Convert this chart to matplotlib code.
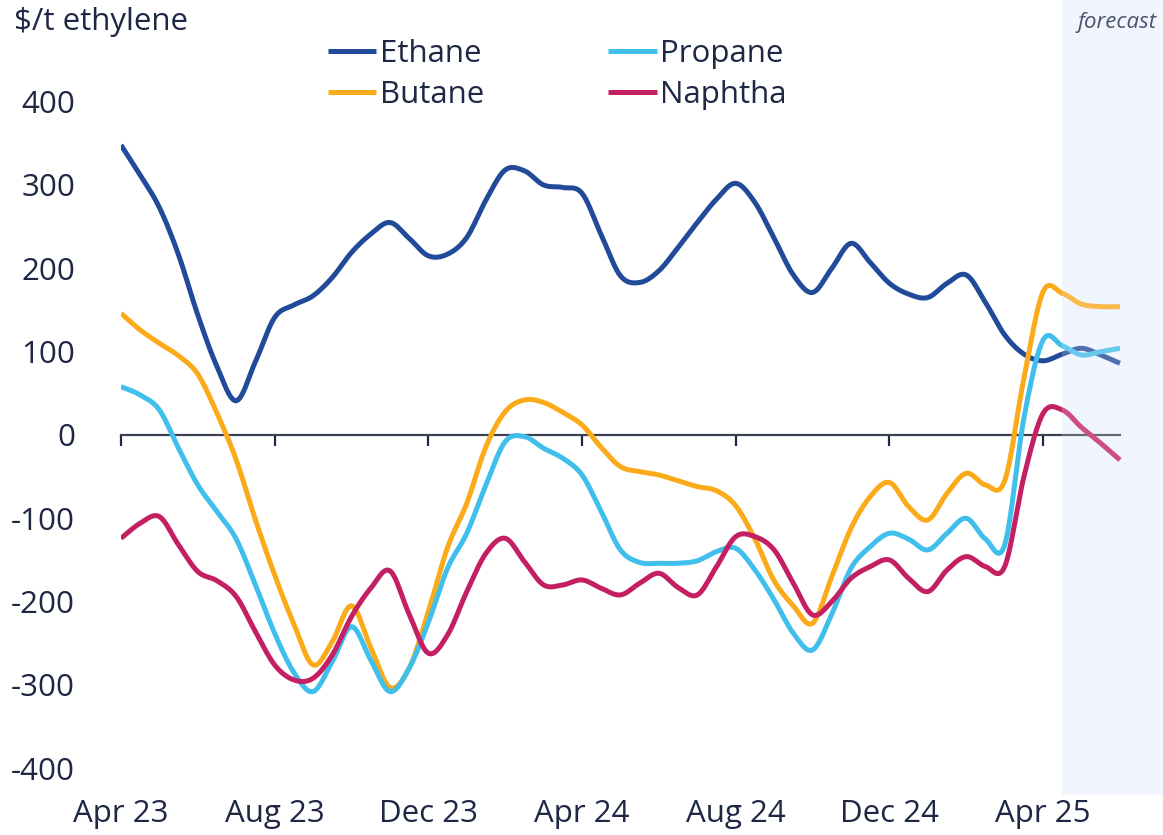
import matplotlib.pyplot as plt
import numpy as np

plt.rcParams["font.family"] = ["Open Sans", "DejaVu Sans"]
plt.rcParams["axes.unicode_minus"] = False

# semi-monthly points, months since Apr 2023
months = np.arange(53) / 2.0

ethane = [348, 312, 273, 216, 144, 82, 41, 88, 141, 156, 167, 189, 219, 241, 255,
          236, 215, 217, 237, 282, 318, 317, 300, 297, 290, 240, 191, 183, 197, 225,
          255, 283, 302, 279, 236, 192, 171, 200, 230, 207, 182, 169, 165, 182, 192,
          159, 120, 97, 89, 97, 104, 96, 86]
propane = [58, 48, 30, -16, -60, -92, -125, -180, -238, -285, -308, -272, -230, -270,
           -308, -280, -225, -160, -118, -60, -8, -2, -16, -28, -48, -92, -138, -153,
           -154, -154, -151, -140, -136, -162, -198, -238, -258, -215, -160, -134,
           -118, -125, -138, -118, -100, -125, -132, 20, 114, 107, 96, 100, 104]
butane = [146, 126, 110, 95, 73, 26, -30, -102, -168, -227, -276, -248, -205, -255,
          -303, -280, -212, -135, -82, -14, 28, 42, 39, 27, 12, -15, -38, -44, -48,
          -55, -62, -67, -85, -125, -175, -205, -226, -170, -112, -74, -57, -86, -102,
          -70, -46, -60, -55, 68, 172, 170, 157, 154, 154]
naphtha = [-124, -106, -98, -132, -164, -175, -194, -236, -276, -294, -292, -264, -218,
           -184, -163, -215, -262, -240, -188, -142, -124, -152, -180, -180, -174,
           -184, -192, -178, -166, -183, -192, -158, -122, -122, -138, -178, -216,
           -200, -172, -158, -150, -172, -188, -162, -146, -158, -158, -50, 26, 30, 9,
           -10, -30]

tick_pos = [0, 4, 8, 12, 16, 20, 24]
tick_labels = ["Apr 23", "Aug 23", "Dec 23", "Apr 24", "Aug 24", "Dec 24", "Apr 25"]
forecast_start = 24.5

series = [
    ("Ethane", ethane, "#214A99"),
    ("Butane", butane, "#FBAA19"),
    ("Propane", propane, "#40BFEC"),
    ("Naphtha", naphtha, "#C41F63"),
]
text_color = "#1E2744"
font_size = 22.5


def spline_path(x, y, steps=10):
    """Catmull-Rom curve through the points, for a smooth line shape."""
    x = np.asarray(x, float)
    y = np.asarray(y, float)
    px = np.concatenate([[2 * x[0] - x[1]], x, [2 * x[-1] - x[-2]]])
    py = np.concatenate([[2 * y[0] - y[1]], y, [2 * y[-1] - y[-2]]])
    t = np.linspace(0, 1, steps, endpoint=False)[:, None]
    t2, t3 = t * t, t * t * t

    def seg(p):
        p0, p1, p2, p3 = p[:-3], p[1:-2], p[2:-1], p[3:]
        return 0.5 * (2 * p1 + (-p0 + p2) * t + (2 * p0 - 5 * p1 + 4 * p2 - p3) * t2
                      + (-p0 + 3 * p1 - 3 * p2 + p3) * t3)

    sx = seg(px).T.ravel()
    sy = seg(py).T.ravel()
    return np.append(sx, x[-1]), np.append(sy, y[-1])


fig = plt.figure(figsize=(11.63, 8.35), dpi=100)
ax = fig.add_axes([0.104, 0.048, 0.896, 0.952])

for name, values, color in series:
    sx, sy = spline_path(months, values)
    ax.plot(sx, sy, color=color, lw=3.6, label=name,
            solid_joinstyle="round", solid_capstyle="butt", zorder=3)

ax.set_xlim(0, 27.12)
ax.set_ylim(-432, 522)

# forecast shading: background plus a light veil that softens the lines
ax.axvspan(forecast_start, 30, color="#F1F5FD", zorder=0, lw=0)
ax.axvspan(forecast_start, 30, color="#F1F5FD", alpha=0.22, zorder=5, lw=0)
ax.text(0.994, 0.972, "forecast", transform=ax.transAxes, ha="right", va="center",
        fontsize=16, style="italic", color=text_color)

for side in ("top", "right", "left"):
    ax.spines[side].set_visible(False)
ax.spines["bottom"].set_position(("data", 0))
ax.spines["bottom"].set_bounds(0, 26)
ax.spines["bottom"].set_color("#3A4152")
ax.spines["bottom"].set_linewidth(1.6)
ax.spines["bottom"].set_zorder(2)

ax.set_xticks(tick_pos)
ax.tick_params(axis="x", direction="out", length=8, width=1.6, color=text_color,
               labelbottom=False)
ax.set_yticks(np.arange(-400, 401, 100))
ax.tick_params(axis="y", length=0, pad=33, labelsize=font_size, labelcolor=text_color)

sec = ax.secondary_xaxis("bottom")
sec.set_xticks(tick_pos, tick_labels)
sec.tick_params(length=0, pad=3, labelsize=font_size, labelcolor=text_color)
sec.spines["bottom"].set_visible(False)

fig.text(0.012, 1 - 22 / 835, r"\$/t ethylene", ha="left", va="center",
         fontsize=font_size, color=text_color)

ax.legend(loc="upper left", bbox_to_anchor=(0.282, 1 - 39 / 835),
          bbox_transform=fig.transFigure, ncol=2, frameon=False, fontsize=font_size,
          handlelength=1.55, handletextpad=0.12, columnspacing=3.96,
          labelspacing=0.34, borderpad=0, borderaxespad=0, labelcolor=text_color)

fig.savefig("out.png", dpi=100)
